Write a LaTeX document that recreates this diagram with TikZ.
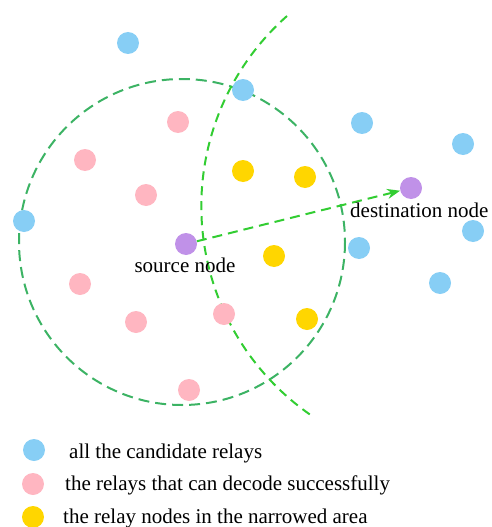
\documentclass[tikz,border=0pt]{standalone}
\usepackage{fontspec}
\setmainfont{Liberation Serif}
\usetikzlibrary{arrows.meta,backgrounds}
\definecolor{cblue}{RGB}{135,206,245}
\definecolor{cpink}{RGB}{255,182,193}
\definecolor{cgold}{RGB}{255,214,0}
\definecolor{cpurple}{RGB}{192,145,232}
\definecolor{cgreenA}{RGB}{60,179,100}
\definecolor{cgreenB}{RGB}{50,205,50}
\tikzset{
  dot/.style={circle, minimum size=22pt, inner sep=0pt, draw=none},
  bluedot/.style={dot, fill=cblue},
  pinkdot/.style={dot, fill=cpink},
  golddot/.style={dot, fill=cgold},
  purpledot/.style={dot, fill=cpurple},
  rangecircle/.style={draw=cgreenA, line width=2pt, dash pattern=on 11pt off 6pt},
  narrowarc/.style={draw=cgreenB, line width=2pt, dash pattern=on 9pt off 6pt},
  arrowline/.style={draw=cgreenB, line width=2pt, dash pattern=on 10pt off 6pt, -{Stealth[length=13pt,width=10pt]}},
  lbl/.style={inner sep=0pt, font=\fontsize{21}{25}\selectfont},
}
\begin{document}
\begin{tikzpicture}[x=1pt,y=-1pt]
\useasboundingbox (0,0) rectangle (491,527);
% blue nodes
\node[bluedot] (b1) at (128,43) {};
\node[bluedot] (b2) at (243,90) {};
\node[bluedot] (b3) at (362,123) {};
\node[bluedot] (b4) at (463,144) {};
\node[bluedot] (b5) at (24,221) {};
\node[bluedot] (b6) at (473,231) {};
\node[bluedot] (b7) at (359,248) {};
\node[bluedot] (b8) at (440,283) {};
% pink nodes
\node[pinkdot] (p1) at (178,122) {};
\node[pinkdot] (p2) at (85,160) {};
\node[pinkdot] (p3) at (146,195) {};
\node[pinkdot] (p4) at (80,284) {};
\node[pinkdot] (p5) at (136,322) {};
\node[pinkdot] (p6) at (224,314) {};
\node[pinkdot] (p7) at (189,390) {};
% gold nodes
\node[golddot] (g1) at (243,171) {};
\node[golddot] (g2) at (305,177) {};
\node[golddot] (g3) at (274,256) {};
\node[golddot] (g4) at (307,319) {};
% source / destination
\node[purpledot] (src) at (186,244) {};
\node[purpledot] (dst) at (411,188) {};
\node[lbl, anchor=base] (srclbl) at (185,272) {source node};
\node[lbl, anchor=base west] (dstlbl) at (350,217) {destination node};
% legend
\node[bluedot] (lb) at (34,450) {};
\node[pinkdot] (lp) at (33,484) {};
\node[golddot] (lg) at (33,517) {};
\node[lbl, anchor=base west] (lbt) at (69,458) {all the candidate relays};
\node[lbl, anchor=base west] (lpt) at (65,490) {the relays that can decode successfully};
\node[lbl, anchor=base west] (lgt) at (63,523) {the relay nodes in the narrowed area};
% lines behind nodes
\begin{scope}[on background layer]
\coordinate (cc) at (182,242);
\draw[rangecircle] (cc) circle[radius=163];
\coordinate (arcstart) at (287,16);
\draw[narrowarc] (arcstart) arc[start angle=228.5, end angle=124, radius=254];
\draw[arrowline] (src) -- (dst);
\end{scope}
\end{tikzpicture}
\end{document}
